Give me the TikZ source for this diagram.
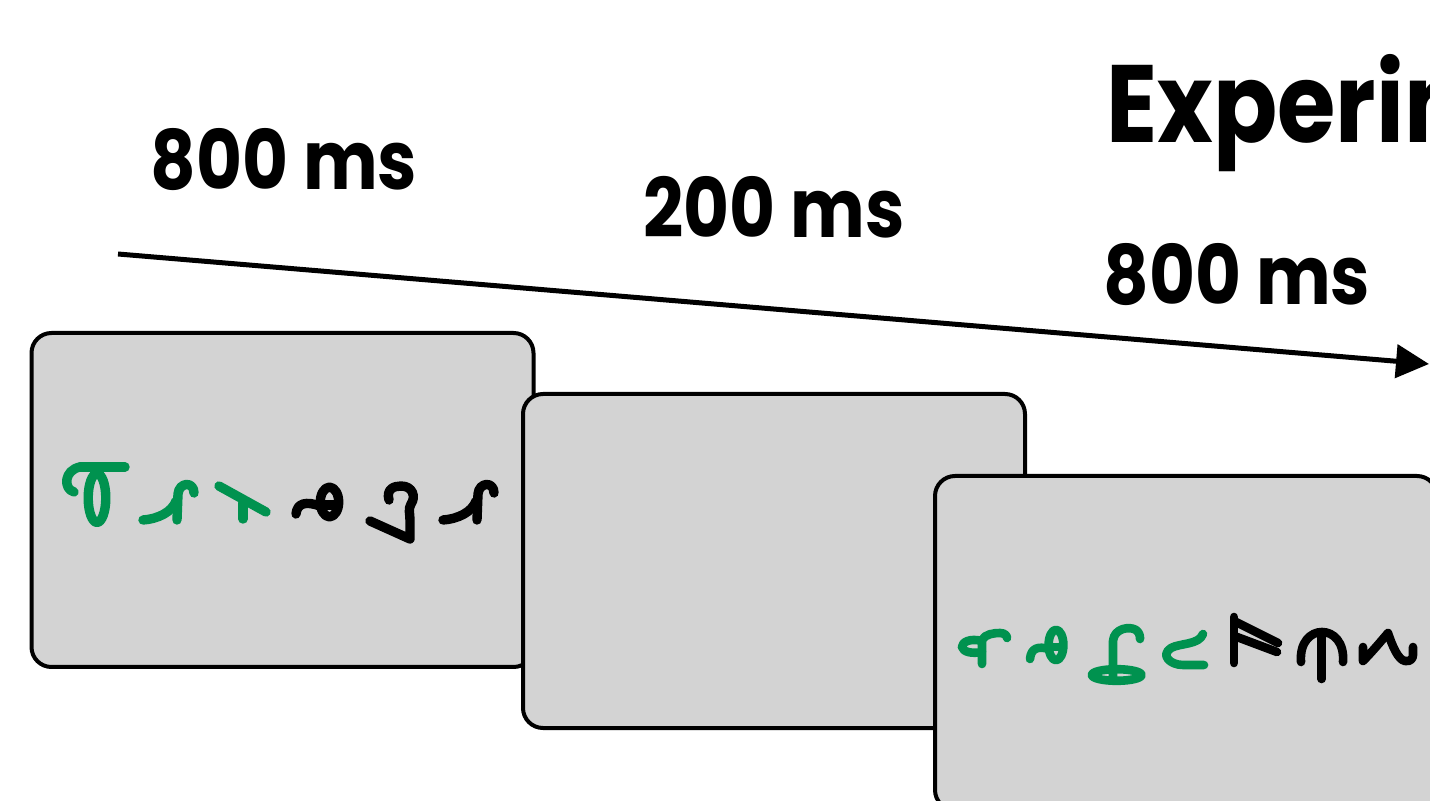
\documentclass[tikz,border=0pt]{standalone}
\usepackage{fontspec}
\setmainfont{Poppins}
\usetikzlibrary{arrows.meta}
\definecolor{glyphgreen}{RGB}{0,146,79}
\definecolor{boxgray}{RGB}{211,211,211}
\begin{document}
\begin{tikzpicture}[x=0.5pt,y=-0.5pt,
  screen/.style={draw=black, fill=boxgray, line width=2pt, rounded corners=10pt,
    minimum width=251pt, minimum height=167pt, inner sep=0pt, outer sep=0pt},
  lbl/.style={font=\bfseries\fontsize{41}{41}\selectfont, anchor=base west, inner sep=0pt},
  ttl/.style={font=\bfseries\fontsize{55}{55}\selectfont, anchor=base west, inner sep=0pt},
  gl/.style={line width=4.7pt, line cap=round, line join=round},
  gg/.style={gl, draw=glyphgreen},
  gb/.style={gl, draw=black},
  timeline/.style={line width=2.5pt, -{Triangle[length=16.5pt,width=16.5pt]}}
]
\useasboundingbox (0,0) rectangle (1430,801);
\clip (0,0) rectangle (1430,801);

% screens
\node[screen] (s1) at (282.5,500) {};
\node[screen] (s2) at (774,561) {};
\node[screen] (s3) at (1186,643) {};

% timeline
\coordinate (t0) at (118,254);
\coordinate (t1) at (1429,364);
\draw[timeline] (t0) -- (t1);

% labels
\node[lbl] (d1) at (150,190) {\scalebox{0.86}[1]{800 ms}};
\node[lbl] (d2) at (643,238) {\scalebox{0.86}[1]{200 ms}};
\node[lbl] (d3) at (1103,305) {\scalebox{0.86}[1]{800 ms}};
\node[ttl] (title) at (1106,143) {\scalebox{0.86}[1]{Experiment}};

% ---- glyphs in screen 1 ----
% g1
\draw[gg] (80,467) -- (125,467);
\draw[gg] (80,467) .. controls (64,470) and (63,489) .. (74,492);
\draw[gg] (97,498) ellipse [x radius=4.4pt, y radius=12.2pt];
% g2
\draw[gg] (143,520) .. controls (158,519) and (172,512) .. (176,501);
\draw[gg] (177,520) -- (178,494) .. controls (179,482) and (194,481) .. (194,493);
% g3
\draw[gg] (219,486) -- (266,512);
\draw[gg] (243,503) -- (243,519);
% g4
\draw[gb] (329.5,502) ellipse [x radius=4.6pt, y radius=7.4pt];
\draw[gb] (321,505) -- (338,505);
\draw[gb] (296,514) .. controls (297,503) and (306,501) .. (320,506);
% g5
\draw[gb] (389,500) .. controls (386,489) and (394,486) .. (401,486)
  .. controls (413,486) and (416,497) .. (411,504)
  .. controls (408,509) and (410,514) .. (410,520) -- (410,539) -- (370,521);
% g6
\begin{scope}[xshift=150pt]
\draw[gb] (143,520) .. controls (158,519) and (172,512) .. (176,501);
\draw[gb] (177,520) -- (178,494) .. controls (179,482) and (194,481) .. (194,493);
\end{scope}

% ---- glyphs in screen 3 ----
\begin{scope}[gl/.append style={line width=4.3pt}]
% h1
\draw[gg] (982,641) .. controls (970,638) and (962,642) .. (962,647)
  .. controls (963,652) and (972,654) .. (982,652);
\draw[gg] (982,664) -- (982,640) .. controls (985,634) and (994,633) .. (1000,633)
  .. controls (1005,633) and (1007,636) .. (1007,638);
% h2
\draw[gg] (1056,645) ellipse [x radius=3.7pt, y radius=7.6pt];
\draw[gg] (1050,647) -- (1062,647);
\draw[gg] (1030,659) .. controls (1031,648) and (1038,646) .. (1049,649);
% h3
\draw[gg] (1116.7,675) ellipse [x radius=12.4pt, y radius=2.9pt];
\draw[gg] (1113,680) -- (1113,641) .. controls (1114,628) and (1130,626) .. (1136,630)
  .. controls (1140,633) and (1140,637) .. (1140,639);
% h4
\draw[gg] (1203,634) .. controls (1199,645) and (1180,643) .. (1171,648)
  .. controls (1160,655) and (1170,665) .. (1183,665) -- (1204,665);
% h5
\draw[gb] (1234,617) -- (1234,663);
\draw[gb] (1236,622) -- (1278,643);
\draw[gb] (1237,637) -- (1277,652);
% h6
\draw[gb] (1301,662) .. controls (1298,622) and (1346,622) .. (1343,662);
\draw[gb] (1321.7,634) -- (1321.7,679);
% h7
\draw[gb] (1363,647) -- (1363,661) .. controls (1372,652) and (1382,640) .. (1388,633)
  .. controls (1392,645) and (1398,660) .. (1405,661)
  .. controls (1411,662) and (1413,658) .. (1413,655) -- (1413,647);
\end{scope}
\end{tikzpicture}
\end{document}
